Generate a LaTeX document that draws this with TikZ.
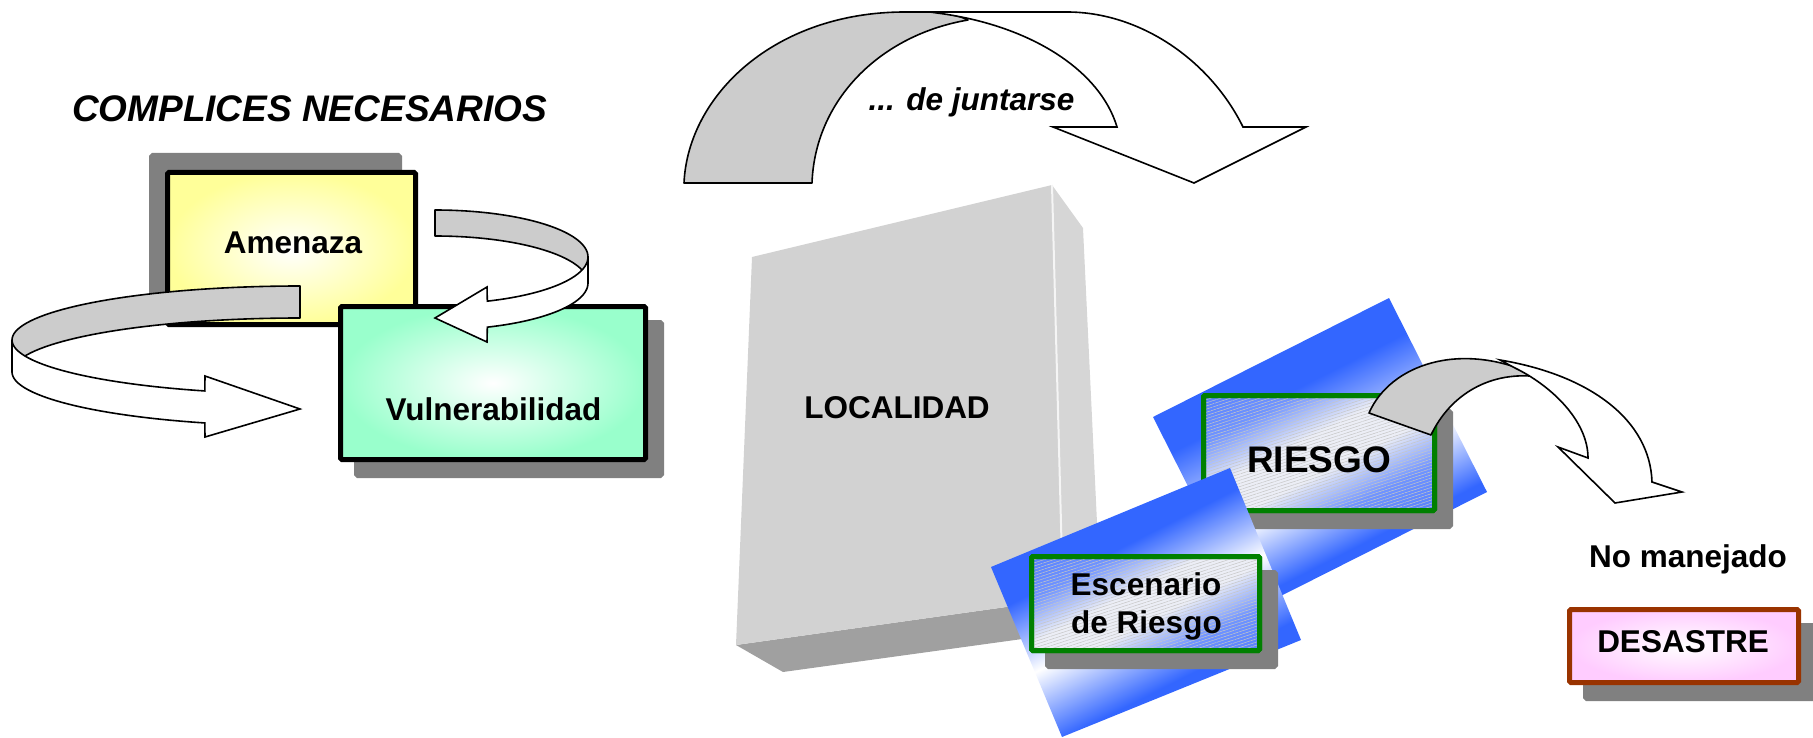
\documentclass[tikz,border=0pt]{standalone}
\usepackage{fontspec}
\setmainfont{Liberation Sans}
\usepackage{tikz}
\usetikzlibrary{shadows}
\usetikzlibrary{patterns.meta}

\definecolor{amenfill}{RGB}{255,255,153}
\definecolor{vulnfill}{RGB}{153,255,204}
\definecolor{desafill}{RGB}{255,204,255}
\definecolor{shadowgray}{RGB}{128,128,128}
\definecolor{ribbongray}{RGB}{204,204,204}
\definecolor{riskgreen}{RGB}{0,128,0}
\definecolor{desabrown}{RGB}{153,51,0}
\definecolor{panelblue}{RGB}{51,102,255}
\definecolor{hatchgray}{RGB}{236,238,246}
\definecolor{locfront}{RGB}{210,210,210}
\definecolor{locside}{RGB}{214,214,214}
\definecolor{locbottom}{RGB}{160,160,160}

\pgfdeclareverticalshading{riesgopanel}{100bp}{color(0bp)=(panelblue); color(17bp)=(panelblue); color(40bp)=(white); color(73bp)=(panelblue); color(100bp)=(panelblue)}
\pgfdeclareverticalshading{escenariopanel}{100bp}{color(0bp)=(panelblue); color(22bp)=(panelblue); color(46bp)=(white); color(70bp)=(panelblue); color(100bp)=(panelblue)}
\pgfdeclareverticalshading{riskinner}{100bp}{color(0bp)=(panelblue); color(30bp)=(panelblue!70!white); color(44bp)=(hatchgray); color(56bp)=(hatchgray); color(70bp)=(panelblue!70!white); color(100bp)=(panelblue)}

\begin{document}
\begin{tikzpicture}[x=1pt, y=-1pt]
		\tikzset{boxtext/.style={font=\fontsize{31.5}{38}\selectfont\bfseries, anchor=base, inner sep=0pt}}
		\tikzset{slanttext/.style={font=\fontsize{31.5}{38}\selectfont\bfseries\itshape, anchor=base, inner sep=0pt}}
		\tikzset{bigtext/.style={font=\fontsize{37}{44}\selectfont\bfseries, anchor=base, inner sep=0pt}}
		\tikzset{card/.style={draw, line width=5pt, rounded corners=1.5pt, inner sep=0pt}}
		\tikzset{riskcard/.style={card, draw=riskgreen, shadowdr, shade, shading=riskinner, shading angle=27,
				postaction={pattern={Lines[angle=18, distance=3pt, line width=0.5pt]}, pattern color=gray!45},
				postaction={draw=riskgreen, line width=5pt}}}
		\tikzset{shadowdr/.style={general shadow={fill=shadowgray, draw=shadowgray, line width=5pt, shadow xshift=16pt, shadow yshift=-16pt}}}
		\tikzset{shadowul/.style={general shadow={fill=shadowgray, draw=shadowgray, line width=5pt, shadow xshift=-16pt, shadow yshift=17pt}}}
		\tikzset{ribbonback/.style={fill=ribbongray, draw=black, line width=1.6pt, line join=round}}
		\tikzset{ribbonfront/.style={fill=white, draw=black, line width=1.6pt}}
		\tikzset{panelshade/.style={inner sep=0pt, xscale=5, yscale=2.99}}
		\useasboundingbox (0,0) rectangle (1813,738);
		%title
		\node[bigtext, font=\fontsize{37}{44}\selectfont\bfseries\itshape] (complices) at (309.5,121.7) {COMPLICES NECESARIOS};
		%threat and vulnerability
		\node[card, shadowul, inner color=white, outer color=amenfill, minimum width=248pt, minimum height=152pt] (amenaza) at (291.5,248.5) {};
		\node[card, shadowdr, inner color=white, outer color=vulnfill, minimum width=305pt, minimum height=153pt] (vulnerab) at (493,383) {};
		\node[boxtext] (amentext) at (293,254) {Amenaza};
		\node[boxtext] (vulntext) at (493.5,420) {Vulnerabilidad};
		%ribbons
		\filldraw[ribbonback] plot[domain=90:180, samples=40] ({300+288*cos(\x)},{340-54*sin(\x)}) -- plot[domain=180:90, samples=40] ({300+288*cos(\x)},{372-54*sin(\x)}) -- cycle;
		\filldraw[ribbonfront] plot[domain=180:250.7, samples=30] ({300+288*cos(\x)},{340-54*sin(\x)}) -- (205,376) -- (300,409) -- (205,437) -- plot[domain=250.7:180, samples=30] ({300+288*cos(\x)},{372-54*sin(\x)}) -- cycle;
		\filldraw[ribbonback] plot[domain=90:0, samples=40] ({435+153*cos(\x)},{257-47*sin(\x)}) -- plot[domain=0:90, samples=40] ({435+153*cos(\x)},{283-47*sin(\x)}) -- cycle;
		\filldraw[ribbonfront] plot[domain=0:-70, samples=30] ({435+153*cos(\x)},{257-47*sin(\x)}) -- (487,287) -- (435,318) -- (487,342) -- plot[domain=-70:0, samples=30] ({435+153*cos(\x)},{283-47*sin(\x)}) -- cycle;
		%arch
		\filldraw[ribbonback] (684,183) .. controls (688,95) and (775,12) .. (905,12) -- (937,12) .. controls (950,14) and (960,16) .. (968,20) .. controls (880,35) and (815,100) .. (812,183) -- cycle;
		\filldraw[ribbonfront] (930,12) -- (1067,12) .. controls (1140,12) and (1210,60) .. (1243,127) -- (1306,127) -- (1194,183) -- (1053,127) -- (1117,127) .. controls (1100,70) and (1030,25) .. (937,13) -- cycle;
		\node[slanttext] (juntarse) at (971.5,111) {... de juntarse};
		%localidad
		\fill[locbottom] (736,645) -- (783,672) -- (1102,628) -- (1063,599) -- cycle;
		\fill[locside] (1052,185) -- (1083,228) -- (1102,628) -- (1063,599) -- cycle;
		\fill[locfront] (752,257) -- (1052,185) -- (1063,599) -- (736,645) -- cycle;
		\draw[white!92!gray, line width=2pt] (1052,185) -- (1063,599);
		\node[boxtext] (localidad) at (897,418) {LOCALIDAD};
		%riesgo
		\begin{scope}
			\clip (1153,417) -- (1389,298) -- (1487,492) -- (1251,611) -- cycle;
			\node[rotate=27, panelshade] (riesgopanel) at (1320,454) {\pgfuseshading{riesgopanel}};
		\end{scope}
		\node[riskcard, minimum width=231pt, minimum height=115pt] (riesgo) at (1319,453) {};
		\node[bigtext] (riesgotext) at (1319,472) {RIESGO};
		%escenario
		\begin{scope}
			\clip (991,567) -- (1230,468) -- (1301,640) -- (1062,737) -- cycle;
			\node[rotate=27, panelshade] (escpanel) at (1146,602) {\pgfuseshading{escenariopanel}};
		\end{scope}
		\node[riskcard, minimum width=228pt, minimum height=94pt] (escenario) at (1145.5,603.5) {};
		\node[boxtext] (esctext) at (1146,595) {Escenario};
		\node[boxtext] (esctextb) at (1146.5,633) {de Riesgo};
		%not managed
		\filldraw[ribbonback] (1369,413) .. controls (1390,365) and (1460,340) .. (1535,375) -- (1540,377) .. controls (1490,370) and (1450,395) .. (1431,435) -- cycle;
		\filldraw[ribbonfront] (1500,360) .. controls (1590,375) and (1650,420) .. (1652,482) -- (1682,492) -- (1615,503) -- (1558,447) -- (1588,458) .. controls (1588,420) and (1550,385) .. (1515,368) -- cycle;
		\node[boxtext] (nomanejado) at (1688,567) {No manejado};
		\node[card, draw=desabrown, shadowdr, inner color=white, outer color=desafill, minimum width=229pt, minimum height=73pt] (desastre) at (1684,646) {};
		\node[boxtext] (desastretext) at (1683,652) {DESASTRE};
\end{tikzpicture}
\end{document}
